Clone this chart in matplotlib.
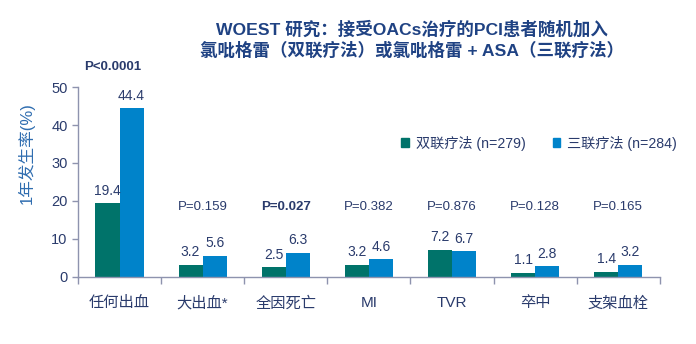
import matplotlib
matplotlib.use("Agg")
import matplotlib.pyplot as plt
from matplotlib.patches import Patch
import numpy as np

plt.rcParams['font.family'] = ['Liberation Sans', 'Noto Sans CJK SC', 'DejaVu Sans']

categories = ["任何出血", "大出血*", "全因死亡", "MI", "TVR", "卒中", "支架血栓"]
dual = [19.4, 3.2, 2.5, 3.2, 7.2, 1.1, 1.4]
triple = [44.4, 5.6, 6.3, 4.6, 6.7, 2.8, 3.2]
p_values = ["P<0.0001", "P=0.159", "P=0.027", "P=0.382", "P=0.876", "P=0.128", "P=0.165"]
p_bold = [True, False, True, False, False, False, False]
dual_label = "双联疗法 (n=279)"
triple_label = "三联疗法 (n=284)"
title = "WOEST 研究：接受OACs治疗的PCI患者随机加入\n氯吡格雷（双联疗法）或氯吡格雷 + ASA（三联疗法）"
ylabel = "1年发生率(%)"

GREEN = "#00736A"
BLUE = "#0083CA"
NAVY = "#2A3B6C"
AXIS = "#8E93AE"
TITLE = "#1F4283"

fig = plt.figure(figsize=(6.96, 3.44), dpi=100)
ax = fig.add_axes([0.112, 0.195, 0.836, 0.552])

x = np.arange(len(categories))
w = 0.29
ax.bar(x - w / 2, dual, width=w, color=GREEN)
ax.bar(x + w / 2, triple, width=w, color=BLUE)

for xi, d, t in zip(x, dual, triple):
    ax.annotate(f"{d}", (xi - w / 2, d), xytext=(0, 4), textcoords="offset points",
                ha="center", va="bottom", fontsize=10, color=NAVY)
    ax.annotate(f"{t}", (xi + w / 2, t), xytext=(0, 4), textcoords="offset points",
                ha="center", va="bottom", fontsize=10, color=NAVY)

for i, (p, b) in enumerate(zip(p_values, p_bold)):
    if i == 0:
        ax.text(i - 0.08, 55.3, p, ha="center", va="center", fontsize=9.5,
                color=NAVY, fontweight="bold", clip_on=False)
    else:
        ax.text(i, 18.4, p, ha="center", va="center", fontsize=9.5, color=NAVY,
                fontweight="bold" if b else "normal")

ax.set_xlim(-0.5, len(categories) - 0.5)
ax.set_ylim(0, 50)
ax.set_yticks([0, 10, 20, 30, 40, 50])
ax.tick_params(axis="y", colors=AXIS, labelcolor=NAVY, labelsize=10.5, length=4, width=1)
ax.set_xticks(x)
ax.set_xticklabels(categories)
ax.tick_params(axis="x", length=0, labelsize=11, labelcolor=NAVY, pad=14)
ax.set_xticks(np.arange(-0.5, len(categories)), minor=True)
ax.tick_params(axis="x", which="minor", length=5, colors=AXIS, width=1)

for s in ("top", "right"):
    ax.spines[s].set_visible(False)
for s in ("left", "bottom"):
    ax.spines[s].set_color(AXIS)
    ax.spines[s].set_linewidth(1)

fig.text(0.038, 0.555, ylabel, rotation=90, ha="center", va="center",
         fontsize=12, color="#2F6DB0")

fig.text(0.592, 0.885, title, ha="center", va="center", fontsize=12.6,
         fontweight="bold", color=TITLE, linespacing=1.25)

handles = [Patch(color=GREEN, label=dual_label), Patch(color=BLUE, label=triple_label)]
fig.legend(handles=handles, loc="center left", bbox_to_anchor=(0.568, 0.584),
           ncol=2, frameon=False, fontsize=10.2, handlelength=0.55, handleheight=0.55,
           handletextpad=0.5, columnspacing=1.9, labelcolor=NAVY, borderaxespad=0)

fig.savefig("out.png", dpi=100)
